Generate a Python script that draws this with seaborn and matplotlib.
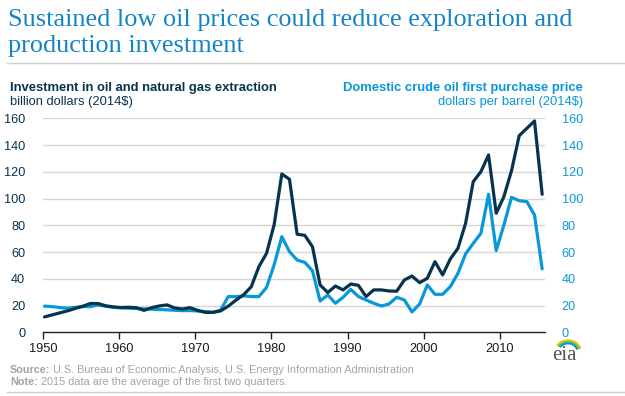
import numpy as np
import pandas as pd
import matplotlib
matplotlib.use("Agg")
import matplotlib.pyplot as plt
import seaborn as sns
from matplotlib import font_manager as fm
from matplotlib.patches import Arc

years = list(range(1950, 2016))
investment = [11.5, 13.0, 14.5, 16.0, 17.8, 19.5, 21.5, 21.5, 19.8, 19.0,
              18.5, 18.7, 18.4, 16.4, 18.4, 19.7, 20.5, 18.2, 17.4, 18.4,
              16.4, 14.9, 14.9, 16.0, 19.5, 24.0, 28.0, 34.0, 49.0, 59.0,
              80.5, 118.4, 114.4, 73.3, 72.5, 64.0, 35.4, 29.7, 34.6, 31.7,
              36.1, 35.1, 26.7, 31.7, 31.7, 30.9, 30.7, 39.1, 42.1, 37.1,
              40.4, 52.8, 42.9, 54.8, 62.8, 81.5, 112.6, 120.1, 132.6, 89.0,
              101.4, 120.9, 147.0, 152.5, 158.0, 103.2]
price = [19.6, 19.2, 18.5, 18.0, 18.6, 19.2, 19.2, 20.5, 19.5, 18.7,
         18.3, 18.0, 17.8, 17.5, 17.3, 17.0, 16.8, 16.5, 16.2, 16.3,
         15.9, 15.5, 14.9, 16.5, 26.7, 26.7, 27.2, 26.7, 26.7, 33.5,
         50.5, 71.5, 60.3, 54.0, 52.3, 46.0, 23.4, 27.9, 21.7, 26.2,
         32.1, 26.7, 24.2, 21.7, 19.7, 21.2, 26.2, 24.2, 15.2, 21.2,
         35.4, 28.4, 28.4, 34.1, 44.1, 58.6, 66.5, 74.0, 103.2, 61.1,
         80.2, 100.9, 98.4, 97.7, 87.7, 47.4]
x_ticks = [1950, 1960, 1970, 1980, 1990, 2000, 2010]
y_ticks = [0, 20, 40, 60, 80, 100, 120, 140, 160]

title_lines = ["Sustained low oil prices could reduce exploration and",
               "production investment"]
left_head = "Investment in oil and natural gas extraction"
left_unit = "billion dollars (2014$)"
right_head = "Domestic crude oil first purchase price"
right_unit = "dollars per barrel (2014$)"
source_txt = "U.S. Bureau of Economic Analysis, U.S. Energy Information Administration"
note_txt = "2015 data are the average of the first two quarters."

DARK = "#06344f"
BLUE = "#0a97d9"
TITLE_C = "#1584c6"
GREY = "#a3a3a3"

sns.set_theme(style="white")
avail = {f.name for f in fm.fontManager.ttflist}
narrow = "Liberation Sans Narrow" if "Liberation Sans Narrow" in avail else "Liberation Sans"
plt.rcParams["font.family"] = [narrow, "DejaVu Sans"]

df = pd.DataFrame({"year": years, "investment": investment, "price": price})

W, H = 625, 396
fig = plt.figure(figsize=(W / 100, H / 100), dpi=100)
fig.patch.set_facecolor("white")

def fx(px):
    return px / W

def fy(py):
    return 1 - py / H

ax = fig.add_axes([fx(43.3), fy(332.3), fx(545 - 43.3), (332.3 - 118.3) / H])
ax2 = ax.twinx()

sns.lineplot(data=df, x="year", y="investment", ax=ax, color=DARK, lw=2.3, zorder=4)
sns.lineplot(data=df, x="year", y="price", ax=ax2, color=BLUE, lw=2.3, zorder=3)

for a in (ax, ax2):
    a.set_ylim(0, 160)
    a.set_xlim(1949.85, 2015.37)
    a.set_xlabel("")
    a.set_ylabel("")
    for s in a.spines.values():
        s.set_visible(False)
    a.set_yticks(y_ticks)
ax.set_zorder(2)
ax.patch.set_visible(False)
ax2.set_zorder(1)

for v in y_ticks[1:]:
    ax2.axhline(v, color="#d6d6d6", lw=1.0, zorder=0)

ax.spines["bottom"].set_visible(True)
ax.spines["bottom"].set_color("#222222")
ax.spines["bottom"].set_linewidth(1.0)

tick_pos = [1949.85 + (t - 1950) * 0.9933 for t in x_ticks]
ax.set_xticks(tick_pos)
ax.set_xticklabels([str(t) for t in x_ticks])
ax.tick_params(axis="x", bottom=True, length=5, width=1, color="#222222",
               labelsize=9.2, labelcolor="#1a1a1a", pad=3)
ax.tick_params(axis="y", left=False, right=False, labelleft=True, labelsize=9.2,
               labelcolor=DARK, length=0, pad=13)
ax2.tick_params(axis="y", left=False, right=False, labelright=True, labelsize=9.2,
                labelcolor=BLUE, length=0, pad=12)
ax2.tick_params(axis="x", bottom=False, labelbottom=False)

for yy, line in zip([26, 52], title_lines):
    fig.text(fx(8), fy(yy), line, ha="left", va="baseline", fontsize=18.9,
             color=TITLE_C, family=["Liberation Serif", "DejaVu Serif"])
fig.add_artist(plt.Line2D([fx(7), 1], [fy(63), fy(63)], color="#d0d0d0", lw=1))

fig.text(fx(10), fy(88), left_head, ha="left", va="center", fontsize=9.4,
         fontweight="bold", color=DARK)
fig.text(fx(10), fy(102), left_unit, ha="left", va="center", fontsize=9.3, color=DARK)
fig.text(fx(583), fy(88), right_head, ha="right", va="center", fontsize=9.4,
         fontweight="bold", color=BLUE)
fig.text(fx(583), fy(102), right_unit, ha="right", va="center", fontsize=9.3, color=BLUE)

fig.canvas.draw()
rend = fig.canvas.get_renderer()
for yy, lab, body in [(370, "Source:", source_txt), (382, "Note:", note_txt)]:
    t = fig.text(fx(10), fy(yy), lab, ha="left", va="center", fontsize=7.8,
                 fontweight="bold", color=GREY)
    bb = t.get_window_extent(renderer=rend)
    fig.text(fx(bb.x1 + 3), fy(yy), body, ha="left", va="center", fontsize=7.8, color=GREY)
fig.add_artist(plt.Line2D([fx(7), 1], [fy(392), fy(392)], color="#d0d0d0", lw=1))

# eia logo
fig.text(fx(564), fy(355), "eia", ha="center", va="center", fontsize=15,
         color="#555555", family=["Liberation Serif", "DejaVu Serif"])
lax = fig.add_axes([fx(553), fy(352), fx(30), (352 - 336) / H])
lax.set_xlim(0, 30)
lax.set_ylim(0, 16)
lax.axis("off")
for r, c in [(13, "#f2c500"), (11.3, "#7cc242"), (9.6, "#0a97d9")]:
    lax.add_patch(Arc((15, 0), 2 * r, 2 * r * 0.9, theta1=15, theta2=150, color=c, lw=1.5))

fig.savefig("out.png", dpi=100, facecolor="white")
